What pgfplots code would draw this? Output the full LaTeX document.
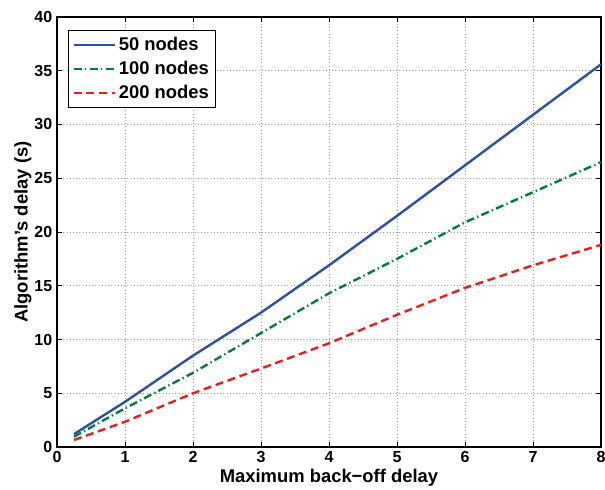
\documentclass[border=0pt]{standalone}
\usepackage{fontspec}
\setmainfont{Liberation Sans}
\usepackage{pgfplots}
\pgfplotsset{compat=1.18}
\usetikzlibrary{calc}
\definecolor{cblue}{RGB}{45,80,165}
\definecolor{cgreen}{RGB}{0,125,55}
\definecolor{cred}{RGB}{235,30,30}
\begin{document}
\begin{tikzpicture}
\begin{axis}[
  scale only axis, width=408pt, height=322.5pt,
  xmin=0, xmax=8, ymin=0, ymax=40,
  xtick={0,1,...,8}, ytick={0,5,...,40},
  tick align=inside, major tick length=4pt,
  tick style={black, line width=0.6pt},
  axis line style={line width=0.8pt},
  grid=major, major grid style={dotted, line width=0.6pt, gray!80},
  /pgf/number format/assume math mode=true,
  ticklabel style={font=\fontsize{12}{12}\selectfont\bfseries},
  xlabel={Maximum back−off delay},
  ylabel={Algorithm's delay (s)},
  label style={font=\fontsize{13.8}{14}\selectfont\bfseries},
  xlabel style={at={(axis description cs:0.5,-0.052)}, anchor=north, inner sep=0pt},
  ylabel style={at={(axis description cs:-0.0625,0.5)}, anchor=center, inner sep=0pt},
  legend style={at={(axis description cs:0.0202,0.9698)}, anchor=north west,
    draw=black, line width=0.8pt, fill=white,
    font=\fontsize{13.8}{15}\selectfont\bfseries,
    inner xsep=3pt, inner ysep=3pt, row sep=2.5pt},
  legend cell align=left,
  legend image code/.code={\draw[#1] (0pt,0pt) -- (31pt,0pt);},
]
\addplot[cblue, line width=1.8pt] coordinates {(0.25,1.2)(1,4.2)(2,8.5)(3,12.5)(4,16.9)(5,21.5)(6,26.2)(7,30.9)(8,35.6)};
\addlegendentry{50 nodes}
\addplot[cgreen, line width=1.8pt, dash pattern=on 6pt off 2.5pt on 1pt off 2.5pt] coordinates {(0.25,0.95)(1,3.6)(2,6.9)(3,10.6)(4,14.3)(5,17.5)(6,20.9)(7,23.7)(8,26.5)};
\addlegendentry{100 nodes}
\addplot[cred, line width=1.8pt, dash pattern=on 6pt off 3.5pt] coordinates {(0.25,0.65)(1,2.35)(2,5.0)(3,7.3)(4,9.65)(5,12.3)(6,14.8)(7,16.9)(8,18.8)};
\addlegendentry{200 nodes}
\end{axis}
\pgfresetboundingbox
\path[use as bounding box] ($(current axis.south west)+(-42.75pt,-31.5pt)$) rectangle ($(current axis.north east)+(3pt,12.75pt)$);
\end{tikzpicture}
\end{document}
